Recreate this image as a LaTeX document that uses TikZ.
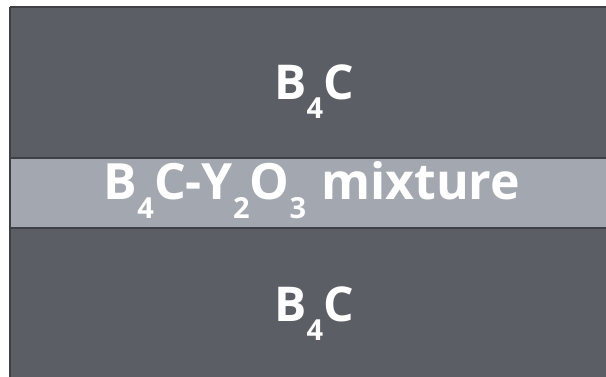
\documentclass[tikz,border=0pt]{standalone}
\usepackage{fontspec}
\setmainfont{Open Sans}
\definecolor{darkl}{HTML}{5B5E65}
\definecolor{lightl}{HTML}{A3A7AF}
\definecolor{edge}{HTML}{3E4045}
\newcommand{\subx}[2]{\raisebox{-#2pt}{\fontsize{29}{29}\selectfont #1}}
\tikzset{lbl/.style={text=white,font=\fontsize{48}{48}\selectfont\bfseries,inner sep=0pt,anchor=base}}
\begin{document}
\begin{tikzpicture}[x=1pt,y=-1pt]
\useasboundingbox (0,0) rectangle (606,377);
\fill[white] (0,0) rectangle (606,377);
\fill[darkl] (10,7) rectangle (606,377);
\fill[lightl] (10,159) rectangle (606,228);
\draw[edge,line width=2.5pt] (10,158) -- (606,158);
\draw[edge,line width=2pt] (10,228) -- (606,228);
\draw[edge,line width=2pt] (10,7) -- (606,7);
\draw[edge,line width=2pt] (10,7) -- (10,377);
\node[lbl] (top) at (314,100) {B\subx{4}{19}C};
\node[lbl,font=\fontsize{50}{50}\selectfont\bfseries] (mid) at (312,200) {B\subx{4}{19}C-Y\subx{2}{19}O\subx{3}{19}\hspace{2pt} mixture};
\node[lbl] (bot) at (314,322) {B\subx{4}{19}C};
\end{tikzpicture}
\end{document}
